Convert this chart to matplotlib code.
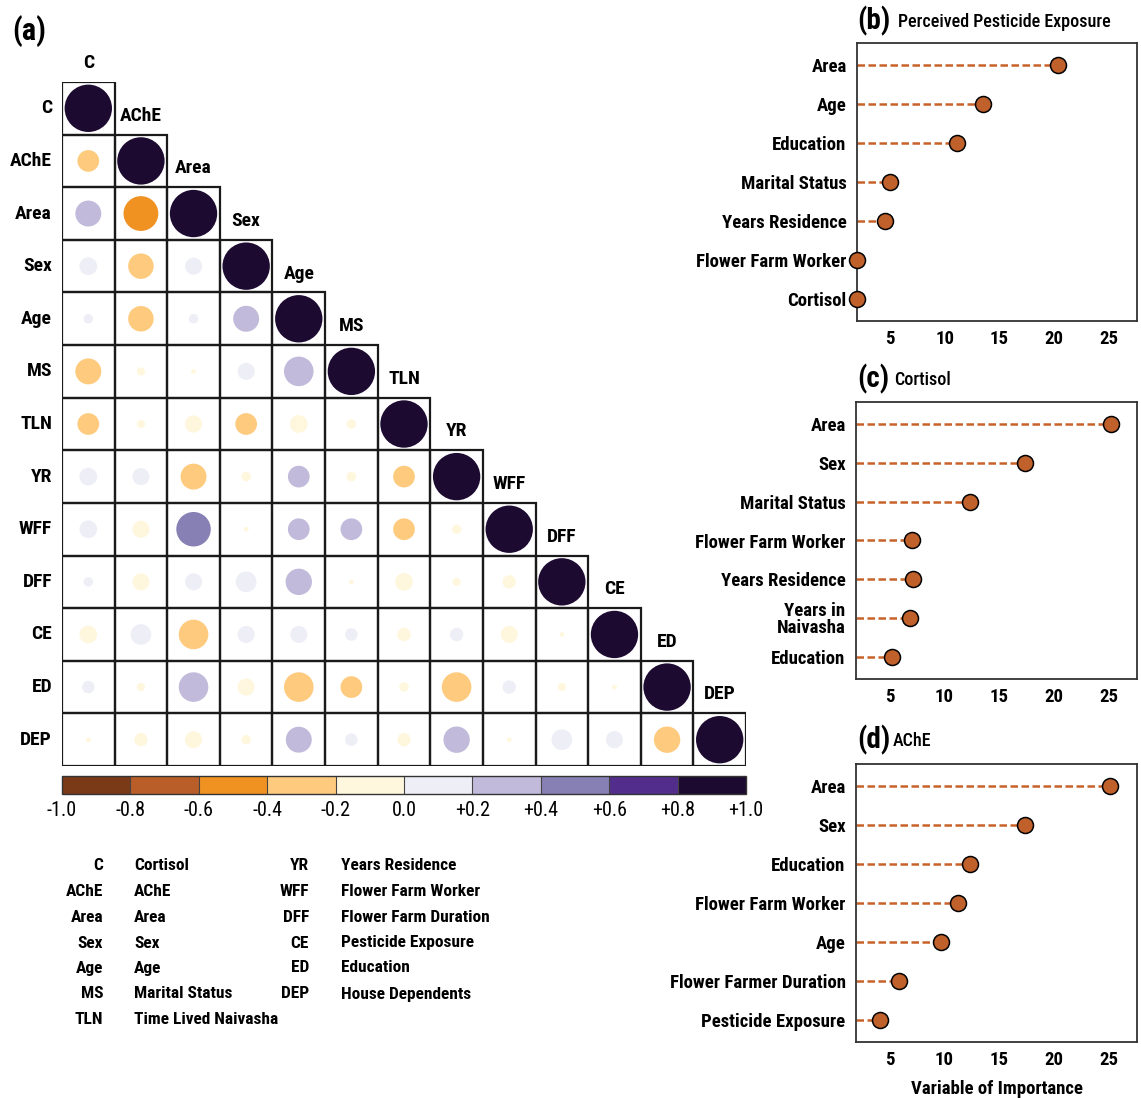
import numpy as np
import matplotlib as mpl
import matplotlib.pyplot as plt
from matplotlib.patches import Circle, Rectangle
from matplotlib.colors import ListedColormap, BoundaryNorm

plt.rcParams['font.family'] = ['Roboto Condensed', 'Liberation Sans', 'DejaVu Sans']
plt.rcParams['font.weight'] = 'bold'
plt.rcParams['axes.labelweight'] = 'bold'

W, H = 1141, 1098

# ---- data: correlation matrix (lower triangle, diagonal = 1) ----
labels = ['C', 'AChE', 'Area', 'Sex', 'Age', 'MS', 'TLN', 'YR', 'WFF', 'DFF', 'CE', 'ED', 'DEP']
corr_rows = [
    [],
    [-0.21],
    [0.30, -0.54],
    [0.14, -0.29, 0.13],
    [0.04, -0.29, 0.04, 0.30],
    [-0.30, -0.03, -0.01, 0.13, 0.39],
    [-0.21, -0.03, -0.13, -0.21, -0.14, -0.04],
    [0.14, 0.13, -0.30, -0.04, 0.21, -0.04, -0.21],
    [0.14, -0.13, 0.53, -0.01, 0.21, 0.21, -0.21, -0.04],
    [0.04, -0.13, 0.13, 0.19, 0.31, -0.01, -0.14, -0.03, -0.08],
    [-0.14, 0.19, -0.39, 0.13, 0.13, 0.07, -0.08, 0.08, -0.13, -0.01],
    [0.07, -0.03, 0.39, -0.13, -0.39, -0.21, -0.04, -0.39, 0.08, -0.03, -0.01],
    [-0.01, -0.08, -0.13, -0.04, 0.30, 0.07, -0.08, 0.31, -0.01, 0.19, 0.13, -0.31],
]
bin_colors = ['#7A3A18', '#B95E28', '#F09222', '#FECB7E', '#FFF7DD',
              '#EEEEF6', '#C1BADB', '#8780B4', '#532D8B', '#1C0A30']
cbar_labels = ['-1.0', '-0.8', '-0.6', '-0.4', '-0.2', '0.0',
               '+0.2', '+0.4', '+0.6', '+0.8', '+1.0']

key_abbr_1 = ['C', 'AChE', 'Area', 'Sex', 'Age', 'MS', 'TLN']
key_name_1 = ['Cortisol', 'AChE', 'Area', 'Sex', 'Age', 'Marital Status', 'Time Lived Naivasha']
key_abbr_2 = ['YR', 'WFF', 'DFF', 'CE', 'ED', 'DEP']
key_name_2 = ['Years Residence', 'Flower Farm Worker', 'Flower Farm Duration',
              'Pesticide Exposure', 'Education', 'House Dependents']

# ---- data: variable importance ----
b_names = ['Area', 'Age', 'Education', 'Marital Status', 'Years Residence',
           'Flower Farm Worker', 'Cortisol']
b_vals = [20.35, 13.45, 11.1, 5.0, 4.5, 1.95, 1.95]
c_names = ['Area', 'Sex', 'Marital Status', 'Flower Farm Worker', 'Years Residence',
           'Years in\nNaivasha', 'Education']
c_vals = [25.2, 17.4, 12.4, 7.1, 7.15, 6.9, 5.2]
d_names = ['Area', 'Sex', 'Education', 'Flower Farm Worker', 'Age',
           'Flower Farmer Duration', 'Pesticide Exposure']
d_vals = [25.1, 17.4, 12.35, 11.3, 9.7, 5.9, 4.1]
imp_ticks = [5, 10, 15, 20, 25]

X_LO, X_HI = 1.95, 27.6
DOT = '#C0612B'
DASH = '#C8622A'


def box(l, t, r, b):
    """pixel box (left, top, right, bottom) -> figure fraction rect"""
    return [l / W, 1 - b / H, (r - l) / W, (b - t) / H]


fig = plt.figure(figsize=(W / 100, H / 100), dpi=100)

# ---- (a) correlation circles ----
n = len(labels)
edges = np.linspace(-1, 1, 11)
ax = fig.add_axes(box(62, 82, 746, 766))
ax.set_xlim(-0.5, n - 0.5)
ax.set_ylim(n - 0.5, -0.5)
ax.axis('off')
for i in range(n):
    row = corr_rows[i] + [1.0]
    for j, r in enumerate(row):
        k = int(np.digitize(r, edges[1:-1]))
        ax.add_patch(Rectangle((j - 0.5, i - 0.5), 1, 1, fill=False,
                               ec='#1a1a1a', lw=1.6, zorder=3))
        ax.add_patch(Circle((j, i), 0.45 * np.sqrt(abs(r)), fc=bin_colors[k],
                            ec='none', zorder=2))
    ax.text(-0.69, i, labels[i], ha='right', va='center', fontsize=14)
    ax.text(i, i - 0.86, labels[i], ha='center', va='center', fontsize=14)

fig.text(12 / W, 1 - 31 / H, '(a)', fontsize=22, ha='left', va='center')

# colour key
cax = fig.add_axes(box(62, 776, 746, 794))
cb = mpl.colorbar.ColorbarBase(cax, cmap=ListedColormap(bin_colors),
                               norm=BoundaryNorm(edges, len(bin_colors)),
                               orientation='horizontal', ticks=edges, drawedges=True)
cb.set_ticklabels(cbar_labels)
cb.outline.set_edgecolor('#333333')
cb.outline.set_linewidth(1.0)
cb.dividers.set_color('#444444')
cb.dividers.set_linewidth(0.8)
cax.tick_params(length=0, labelsize=14.5, pad=5)
for t in cax.get_xticklabels():
    t.set_fontweight('normal')

# abbreviation key
row_y = [865, 891, 917, 943, 968, 994, 1020]
for k, (a, nm) in enumerate(zip(key_abbr_1, key_name_1)):
    fig.text(103 / W, 1 - row_y[k] / H, a, ha='right', va='center', fontsize=12.5)
    fig.text(134 / W, 1 - row_y[k] / H, nm, ha='left', va='center', fontsize=12.5)
for k, (a, nm) in enumerate(zip(key_abbr_2, key_name_2)):
    fig.text(309 / W, 1 - row_y[k] / H, a, ha='right', va='center', fontsize=12.5)
    fig.text(341 / W, 1 - row_y[k] / H, nm, ha='left', va='center', fontsize=12.5)


# ---- (b)-(d) lollipops ----
def lollipop(rect, names, vals, tag, title, tag_y, title_x, xlabel=None):
    lx = fig.add_axes(box(*rect))
    y = np.arange(len(vals))[::-1]
    for yy, v in zip(y, vals):
        lx.plot([X_LO, v], [yy, yy], color=DASH, lw=1.8, ls='--', dashes=(3, 1.4),
                zorder=2)
    lx.plot(vals, y, 'o', ms=11.5, mfc=DOT, mec='black', mew=1.1,
            clip_on=False, zorder=3)
    lx.set_xlim(X_LO, X_HI)
    lx.set_ylim(-0.56, len(vals) - 0.44)
    lx.set_xticks(imp_ticks)
    lx.set_yticks(y)
    lx.set_yticklabels(names, fontsize=13.5)
    for t in lx.get_yticklabels():
        t.set_linespacing(0.9)
    lx.tick_params(axis='y', length=0, pad=7.5)
    lx.tick_params(axis='x', length=0, labelsize=13.5, pad=6.5)
    for s in lx.spines.values():
        s.set_color('#333333')
        s.set_linewidth(1.3)
    if xlabel:
        lx.set_xlabel(xlabel, fontsize=13.5, labelpad=8, fontweight='bold')
    fig.text(857 / W, 1 - tag_y / H, tag, fontsize=21, ha='left', va='center')
    fig.text(title_x / W, 1 - (tag_y + 1) / H, title, fontsize=13,
             ha='left', va='center', fontweight='medium')
    return lx


lollipop((857, 43, 1137, 321), b_names, b_vals, '(b)', 'Perceived Pesticide Exposure', 21, 898)
lollipop((856, 402, 1137, 679), c_names, c_vals, '(c)', 'Cortisol', 379, 894)
lollipop((856, 764, 1137, 1042), d_names, d_vals, '(d)', 'AChE', 740, 893,
         xlabel='Variable of Importance')

fig.savefig('out.png', dpi=100)
